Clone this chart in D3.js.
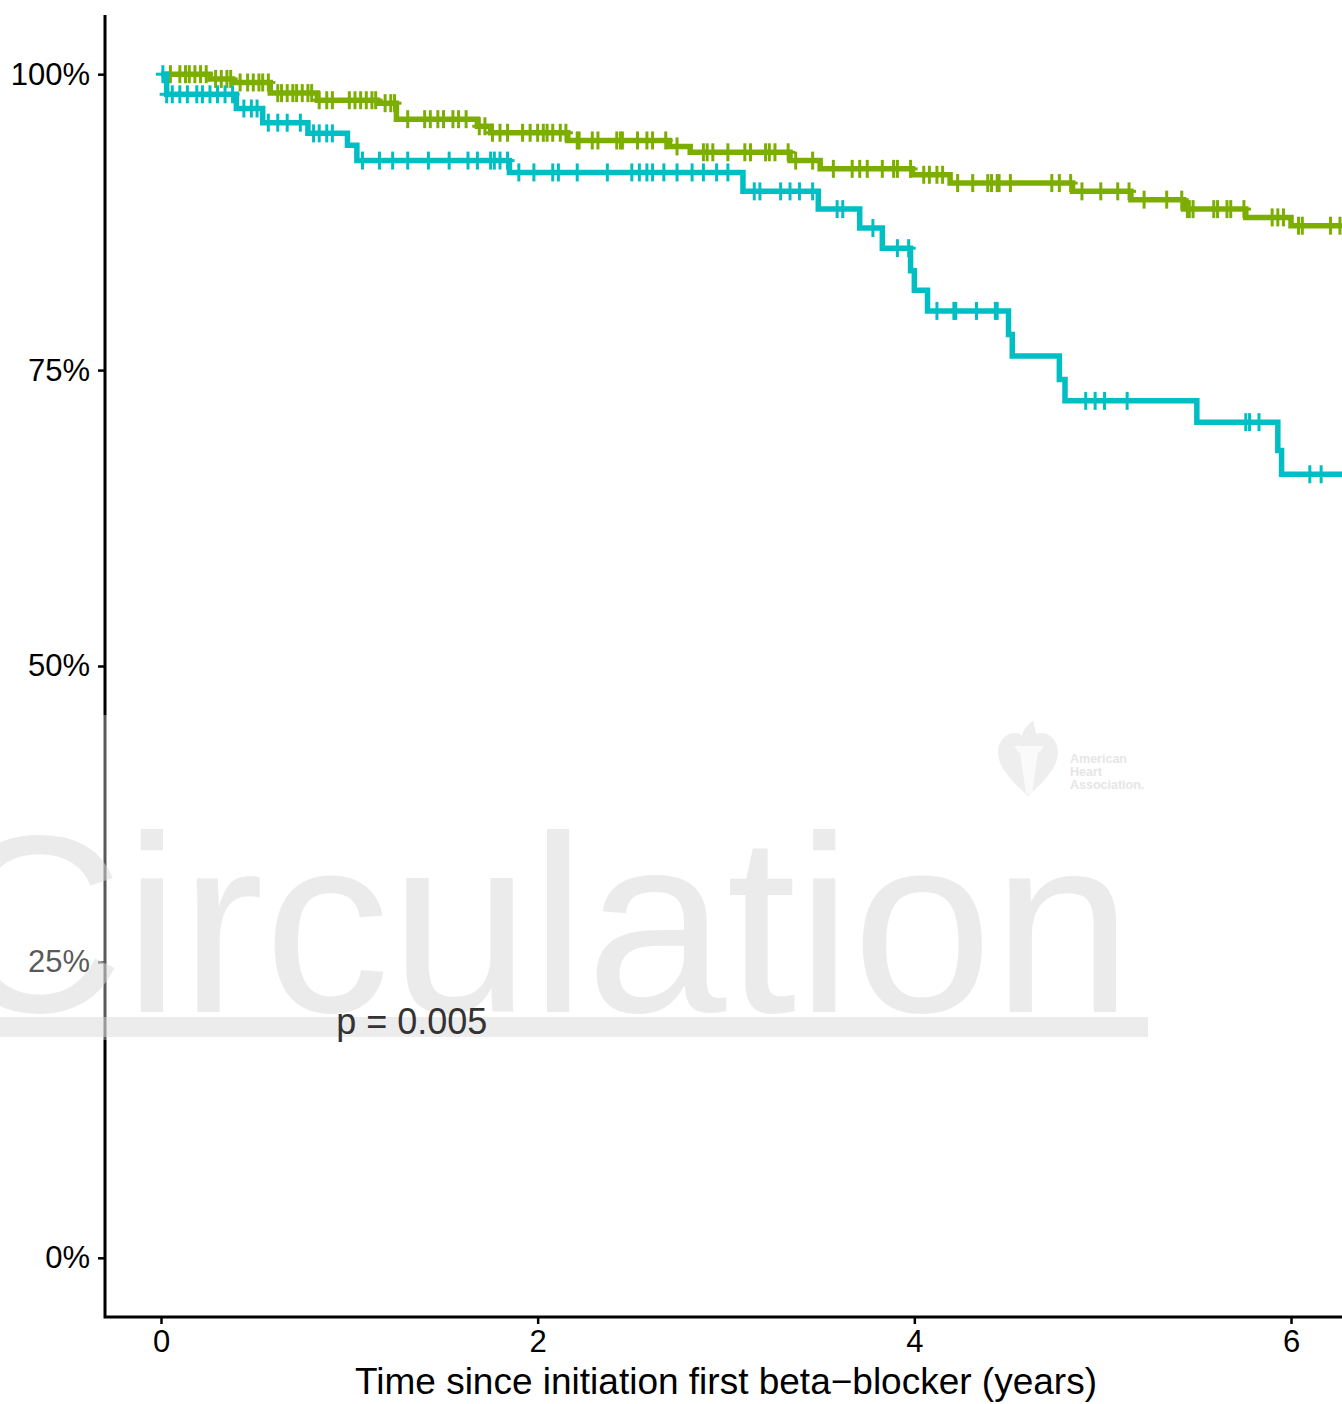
<!DOCTYPE html>
<html>
<head>
<meta charset="utf-8">
<script src="https://cdn.jsdelivr.net/npm/d3@7"></script>
<style>
  body { margin: 0; background: white; }
  text { font-family: "Liberation Sans", Arial, sans-serif; }
</style>
</head>
<body>
<div id="chart"></div>
<script>
var svgWidth = 1342;
var svgHeight = 1404;

// KM step curves: event times (years) and survival after each step (%)
var greenTimes = [0, 0.26, 0.38, 0.58, 0.83, 1.15, 1.25, 1.68, 1.75, 2.16, 2.70, 2.81, 3.34, 3.50, 3.99, 4.19, 4.84, 5.15, 5.43, 5.76, 6.00];
var greenSurv  = [100, 99.6, 99.3, 98.4, 97.8, 97.55, 96.2, 95.6, 95.05, 94.4, 93.9, 93.4, 92.7, 92.0, 91.5, 90.8, 90.1, 89.4, 88.6, 87.9, 87.2];
var greenCensor = [0.05, 0.10, 0.13, 0.15, 0.18, 0.21, 0.24, 0.29, 0.32, 0.35, 0.37, 0.42, 0.46, 0.49, 0.52, 0.54, 0.57,
  0.62, 0.64, 0.67, 0.70, 0.72, 0.75, 0.78, 0.80, 0.84, 0.88, 0.91, 1.00, 1.03, 1.06, 1.09, 1.12, 1.14, 1.19, 1.22, 1.24,
  1.31, 1.40, 1.43, 1.47, 1.50, 1.55, 1.58, 1.62, 1.69, 1.72, 1.76, 1.80, 1.84, 1.92, 1.96, 2.00, 2.03, 2.05, 2.08, 2.12, 2.15,
  2.21, 2.22, 2.29, 2.32, 2.42, 2.44, 2.45, 2.53, 2.58, 2.61, 2.68, 2.74, 2.88, 2.90, 2.93, 3.01, 3.10, 3.13, 3.21, 3.23, 3.26,
  3.33, 3.37, 3.46, 3.57, 3.67, 3.71, 3.75, 3.83, 3.89, 3.91, 3.98, 4.05, 4.08, 4.12, 4.15, 4.23, 4.31, 4.39, 4.41, 4.44, 4.45,
  4.51, 4.73, 4.77, 4.83, 4.89, 4.99, 5.08, 5.14, 5.22, 5.34, 5.42, 5.45, 5.46, 5.48, 5.59, 5.61, 5.66, 5.68, 5.75, 5.90, 5.93,
  5.96, 6.04, 6.06, 6.21, 6.26];

var cyanTimes = [0, 0.03, 0.40, 0.54, 0.78, 0.99, 1.04, 1.85, 3.09, 3.49, 3.71, 3.83, 3.98, 4.00, 4.07, 4.50, 4.52, 4.77, 4.80, 5.50, 5.93, 5.95];
var cyanSurv  = [100, 98.3, 97.1, 95.9, 95.0, 94.0, 92.7, 91.7, 90.1, 88.6, 87.0, 85.3, 83.4, 81.75, 80.0, 78.0, 76.2, 74.2, 72.4, 70.6, 68.2, 66.2];
var cyanCensor = [0.01, 0.03, 0.06, 0.10, 0.14, 0.19, 0.22, 0.26, 0.30, 0.34, 0.38, 0.44, 0.48, 0.51, 0.57, 0.62, 0.67, 0.74,
  0.81, 0.84, 0.88, 0.91, 1.07, 1.16, 1.23, 1.31, 1.42, 1.53, 1.63, 1.68, 1.75, 1.77, 1.80, 1.84, 1.90, 1.98, 2.08, 2.11,
  2.21, 2.37, 2.50, 2.54, 2.58, 2.61, 2.67, 2.74, 2.82, 2.88, 2.95, 3.01, 3.15, 3.18, 3.29, 3.34, 3.39, 3.46, 3.59, 3.62,
  3.78, 3.91, 3.97, 4.12, 4.21, 4.22, 4.33, 4.43, 4.44, 4.91, 4.96, 5.01, 5.13, 5.76, 5.78, 5.83, 6.10, 6.16];

var yTicks = [0, 25, 50, 75, 100];
var xTicks = [0, 2, 4, 6];
var xTitle = "Time since initiation first beta\u2212blocker (years)";
var pText = "p = 0.005";

var margin = { top: 15, left: 105, bottom: 87 };
var plotRight = 1347;
var height = svgHeight - margin.top - margin.bottom;

var svg = d3.select("#chart")
  .append("svg")
  .attr("width", svgWidth)
  .attr("height", svgHeight);
svg.append("rect")
  .attr("width", "100%")
  .attr("height", "100%")
  .attr("fill", "white");

var x = d3.scaleLinear().domain([0, 6]).range([161, 1291]);
var y = d3.scaleLinear().domain([-5, 105]).range([margin.top + height, margin.top]);

function survAt(times, surv, t) {
  var s = surv[0];
  for (var i = 0; i < times.length; i++) {
    if (times[i] <= t) s = surv[i];
  }
  return s;
}

function drawCurve(times, surv, censor, color, tEnd) {
  var pts = times.map((t, i) => [t, surv[i]]);
  pts.push([tEnd, surv[surv.length - 1]]);
  var line = d3.line()
    .x(d => x(d[0]))
    .y(d => y(d[1]))
    .curve(d3.curveStepAfter);
  svg.append("path")
    .datum(pts)
    .attr("fill", "none")
    .attr("stroke", color)
    .attr("stroke-width", 5.5)
    .attr("d", line);

  var marks = svg.append("g");
  censor.forEach(function(t) {
    var cx = x(t), cy = y(survAt(times, surv, t));
    marks.append("line")
      .attr("x1", cx).attr("x2", cx)
      .attr("y1", cy - 9).attr("y2", cy + 9)
      .attr("stroke", color).attr("stroke-width", 3);
    marks.append("line")
      .attr("x1", cx - 7).attr("x2", cx + 7)
      .attr("y1", cy).attr("y2", cy)
      .attr("stroke", color).attr("stroke-width", 3);
  });
}

drawCurve(greenTimes, greenSurv, greenCensor, "#7CAE00", 6.4);
drawCurve(cyanTimes, cyanSurv, cyanCensor, "#00BFC4", 6.4);

// axes
var leftAxis = d3.axisLeft(y)
  .tickValues(yTicks)
  .tickSize(7)
  .tickPadding(8)
  .tickFormat(d => d + "%");
var yAxisG = svg.append("g")
  .attr("transform", `translate(${margin.left}, 0)`)
  .call(leftAxis);

var bottomAxis = d3.axisBottom(x)
  .tickValues(xTicks)
  .tickSize(7)
  .tickPadding(6)
  .tickFormat(d3.format("d"));
var xAxisG = svg.append("g")
  .attr("transform", `translate(0, ${margin.top + height})`)
  .call(bottomAxis);

[yAxisG, xAxisG].forEach(function(g) {
  g.select(".domain").remove();
  g.selectAll(".tick line").attr("stroke", "#000").attr("stroke-width", 2.5);
  g.selectAll(".tick text")
    .attr("fill", "#000")
    .style("font-size", "31px")
    .style("font-family", "'Liberation Sans', Arial, sans-serif");
});

// L-shaped axis lines
svg.append("path")
  .attr("d", `M${margin.left},${margin.top} V${margin.top + height} H${plotRight}`)
  .attr("fill", "none")
  .attr("stroke", "#000")
  .attr("stroke-width", 3);

svg.append("text")
  .attr("x", (margin.left + plotRight) / 2)
  .attr("y", 1394)
  .attr("text-anchor", "middle")
  .style("font-size", "37px")
  .attr("fill", "#000")
  .text(xTitle);

// watermark
svg.append("rect")
  .attr("x", 0).attr("y", 715)
  .attr("width", 1148).attr("height", 325)
  .attr("fill", "white").attr("opacity", 0.35);
svg.append("text")
  .attr("x", -58)
  .attr("y", 1012)
  .style("font-size", "252px")
  .attr("fill", "#d9d9d9")
  .attr("opacity", 0.5)
  .text("Circulation");
svg.append("rect")
  .attr("x", 0).attr("y", 1017)
  .attr("width", 1148).attr("height", 20)
  .attr("fill", "#d9d9d9").attr("opacity", 0.5);

var logo = svg.append("g")
  .attr("transform", "translate(1028, 760)")
  .attr("opacity", 0.6);
logo.append("path")
  .attr("d", "M0,36 C-18,20 -30,6 -30,-8 C-30,-22 -18,-30 -8,-26 C-4,-24 -1,-21 0,-18 C1,-21 4,-24 8,-26 C18,-30 30,-22 30,-8 C30,6 18,20 0,36 Z")
  .attr("fill", "#e3e3e3");
logo.append("path")
  .attr("d", "M-2,34 L-8,-8 L10,-8 L4,34 Z M-14,-14 L16,-14 L12,-8 L-10,-8 Z")
  .attr("fill", "#f7f7f7");
logo.append("path")
  .attr("d", "M-2,-18 C-10,-26 -2,-34 6,-40 C4,-32 12,-28 6,-18 Z")
  .attr("fill", "#e3e3e3");
["American", "Heart", "Association."].forEach(function(s, i) {
  svg.append("text")
    .attr("x", 1070)
    .attr("y", 763 + i * 13)
    .style("font-size", "12.5px")
    .style("font-weight", "bold")
    .attr("fill", "#e6e6e6")
    .text(s);
});

// p-value label sits on top of the watermark
svg.append("text")
  .attr("x", x(0.93))
  .attr("y", y(20))
  .attr("dy", "0.35em")
  .style("font-size", "36px")
  .attr("fill", "#333")
  .text(pText);
</script>
</body>
</html>
